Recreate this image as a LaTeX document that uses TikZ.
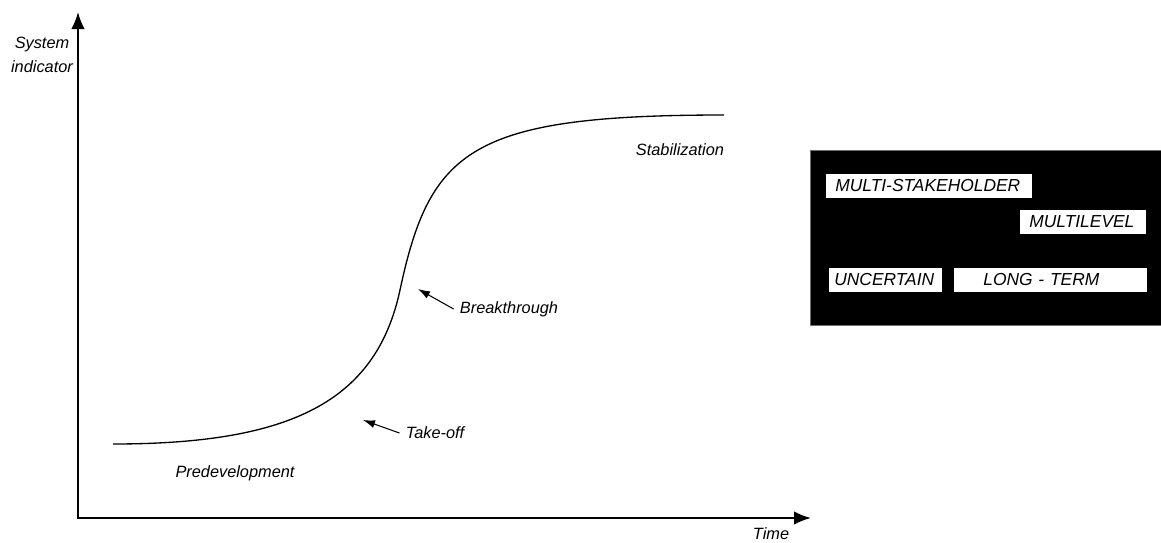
\documentclass[tikz,border=0pt]{standalone}
\usepackage{fontspec}
\setmainfont{Liberation Sans}
\usetikzlibrary{arrows.meta}
\definecolor{panelrim}{HTML}{6E6E6E}

\begin{document}
\begin{tikzpicture}[x=0.02cm,y=-0.02cm,
 font=\fontsize{9.3}{11}\selectfont\itshape,
 axis/.style={{Latex[length=3.4mm,width=2.7mm]}-{Latex[length=3.4mm,width=2.7mm]},
   line width=1.1pt},
 pointer/.style={-{Latex[length=2.4mm,width=1.6mm]},line width=0.6pt},
 phase/.style={inner sep=1.2mm},
 % White tags on the black panel; width set per tag through text width.
 tag/.style={fill=white,anchor=west,align=left,inner ysep=0pt,
   minimum height=4.8mm,font=\fontsize{9.9}{11}\selectfont\itshape}]
\useasboundingbox (0,0) rectangle (1161,542);

% Axes share one path so the corner closes cleanly.
\coordinate (origin) at (78,518);
\coordinate (ytip) at (78,12);
\coordinate (xtip) at (811,518);
\draw[axis] (ytip) -- (origin) -- (xtip);
\node[align=center,font=\fontsize{9.3}{13.6}\selectfont\itshape]
  (ylabel) at (42,55) {System\\indicator};
\node (xlabel) at (771,534) {Time};

% S-curve of the transition, two joined Bezier pieces.
\draw[line width=0.75pt] (113,444) .. controls (290,444) and (376,402) .. (400,290)
  .. controls (430,150) and (470,115) .. (724,115);

% Phase labels.
\node[phase] (stab) at (680,150) {Stabilization};
\node[phase] (brk) at (509,309) {Breakthrough};
\node[phase] (take) at (435,433) {Take-off};
\node[phase] (pre) at (235,473) {Predevelopment};
\coordinate (brkpt) at (418,289);
\coordinate (takept) at (363,420);
\draw[pointer] (brk.west) -- (brkpt);
\draw[pointer] (take.west) -- (takept);

% Characteristics panel.
\filldraw[fill=black,draw=panelrim,line width=0.4pt] (810,150) rectangle (1161,325);
\node[tag,text width=3.76cm,inner xsep=0.18cm] (stake) at (826,186) {MULTI-STAKEHOLDER};
\node[tag,text width=2.16cm,inner xsep=0.18cm] (level) at (1020,222) {MULTILEVEL};
\node[tag,text width=2.06cm,inner xsep=0.1cm] (uncert) at (829,280) {UNCERTAIN};
\node[tag,text width=2.7cm,inner xsep=0.58cm] (long) at (954,280) {LONG - TERM};
\end{tikzpicture}
\end{document}
